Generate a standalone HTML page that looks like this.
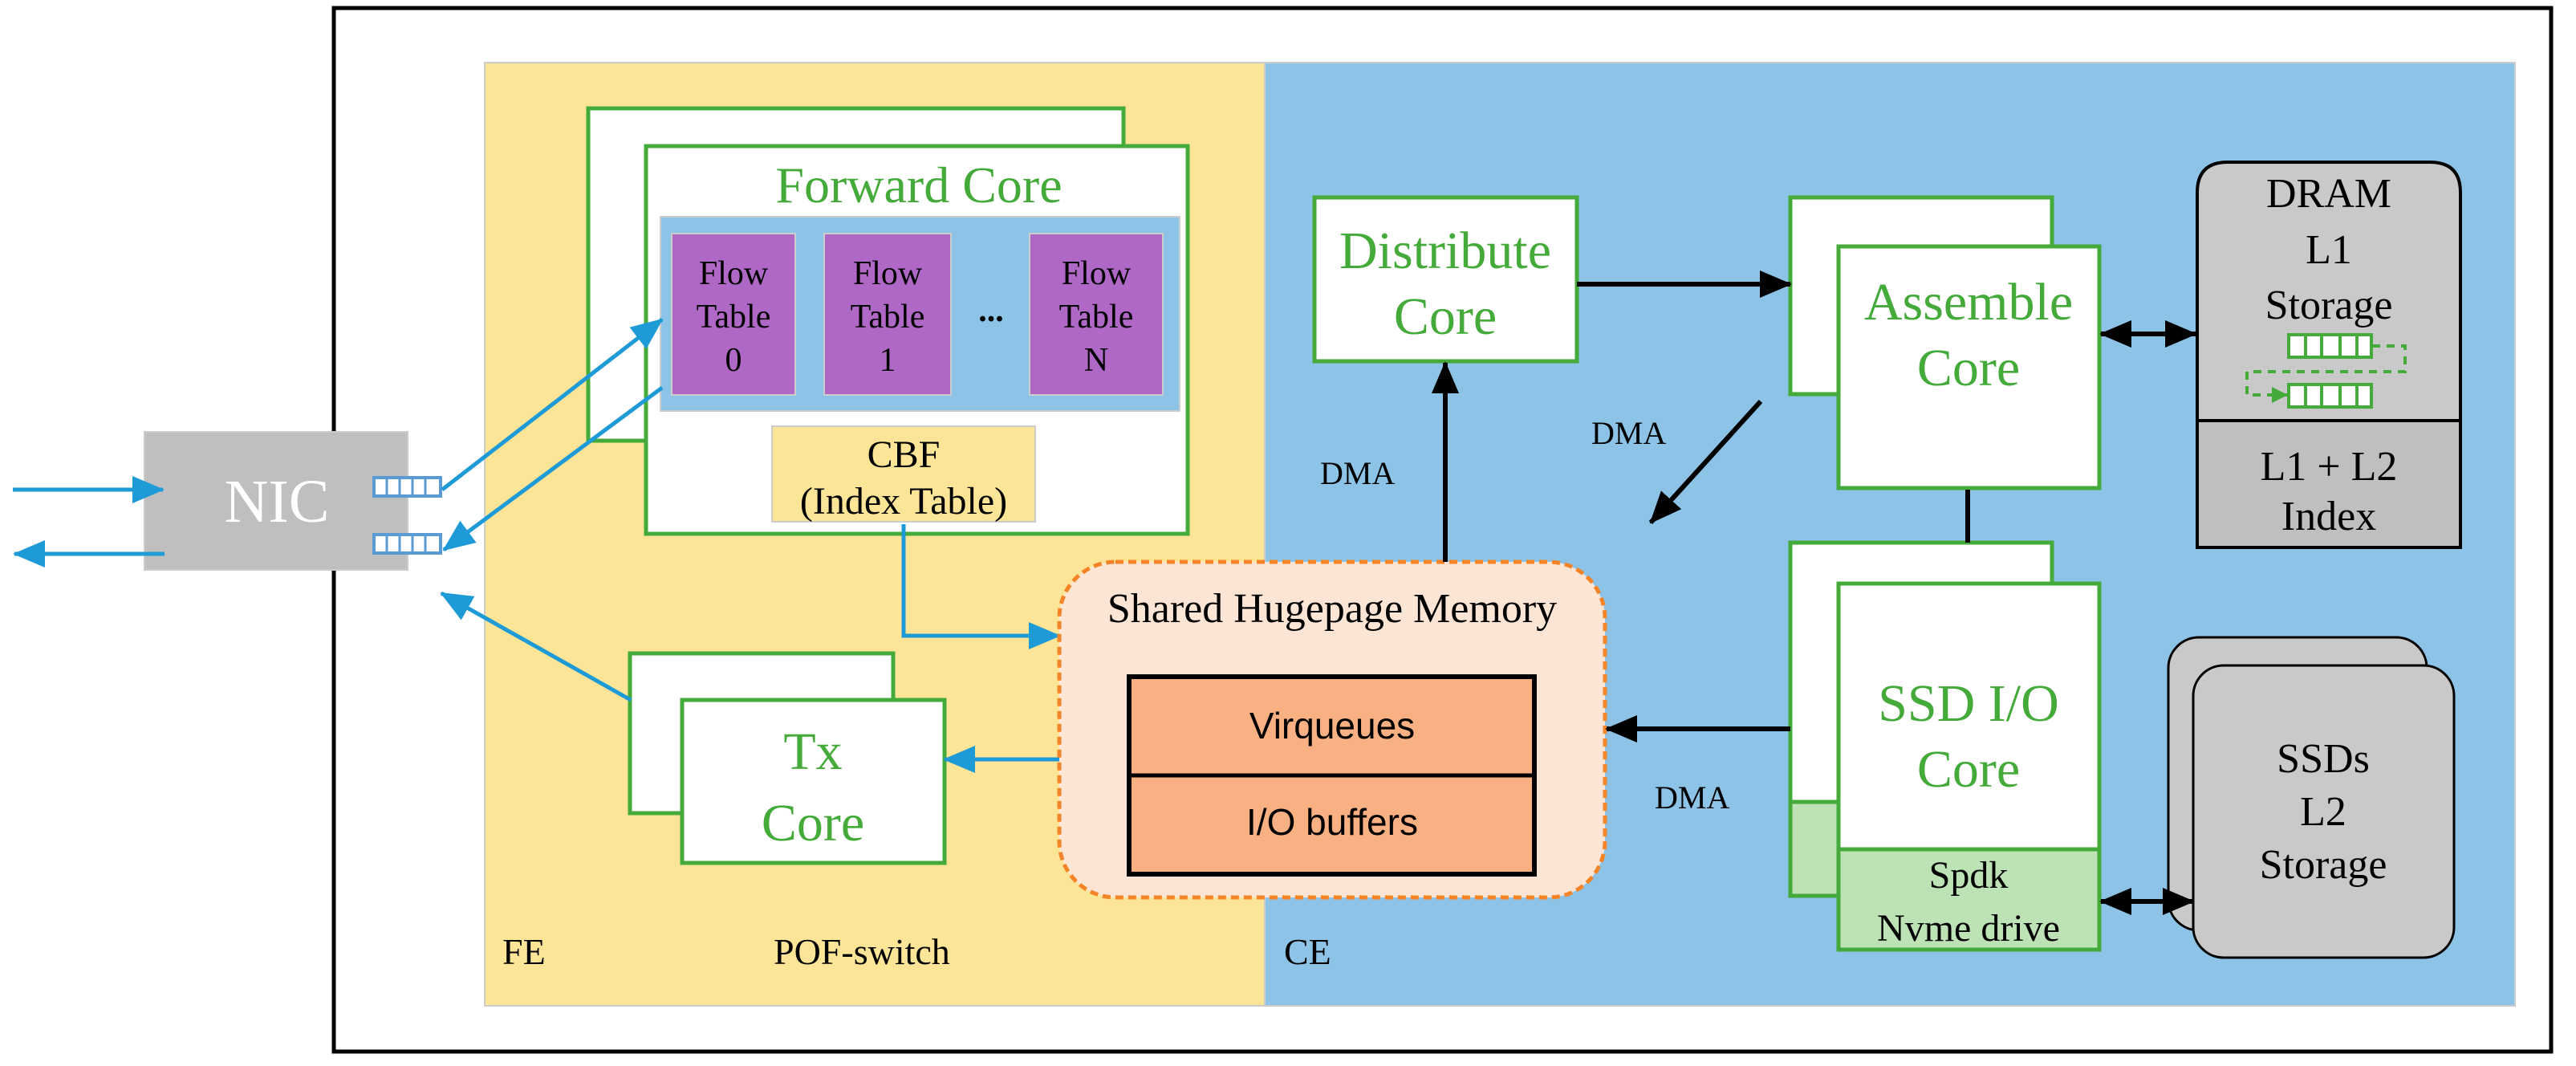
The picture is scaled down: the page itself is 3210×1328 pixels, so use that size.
<!DOCTYPE html>
<html><head><meta charset="utf-8"><style>
html,body{margin:0;padding:0;background:#fff;}
svg{display:block;}
</style></head><body>
<svg width="3210" height="1328" viewBox="0 0 3210 1328" xmlns="http://www.w3.org/2000/svg" font-family="Liberation Serif, serif">
<defs>
<marker id="bk" markerWidth="40" markerHeight="40" refX="38" refY="20" orient="auto" markerUnits="userSpaceOnUse" viewBox="0 0 40 40"><path d="M0,3 L40,20 L0,37 z" fill="#000"/></marker>
<marker id="bks" markerWidth="40" markerHeight="40" refX="2" refY="20" orient="auto" markerUnits="userSpaceOnUse" viewBox="0 0 40 40"><path d="M40,3 L0,20 L40,37 z" fill="#000"/></marker>
<marker id="bl" markerWidth="40" markerHeight="40" refX="38" refY="20" orient="auto" markerUnits="userSpaceOnUse" viewBox="0 0 40 40"><path d="M0,3 L40,20 L0,37 z" fill="#1E9AD6"/></marker>
<marker id="gr" markerWidth="20" markerHeight="20" refX="19" refY="10" orient="auto" markerUnits="userSpaceOnUse" viewBox="0 0 20 20"><path d="M0,0 L20,10 L0,20 z" fill="#44AA3A"/></marker>
</defs>
<rect x="416" y="10" width="2763" height="1300" fill="#fff" stroke="#000" stroke-width="5"/>
<rect x="604" y="78" width="972" height="1175" fill="#FDE598" stroke="#ccc" stroke-width="2"/>
<rect x="1576" y="78" width="1558" height="1175" fill="#8DC3E6" stroke="#ccc" stroke-width="2"/>

<rect x="180" y="538" width="328" height="172" fill="#BFBFBF" stroke="#ccc" stroke-width="2"/>
<text x="345" y="650" font-size="76" fill="#fff" text-anchor="middle">NIC</text>
<g fill="#fff" stroke="#5B9BD5" stroke-width="4">
<rect x="466" y="595" width="83" height="23"/><rect x="466" y="666" width="83" height="23"/>
</g>
<g stroke="#5B9BD5" stroke-width="3">
<line x1="482" y1="595" x2="482" y2="618"/><line x1="498" y1="595" x2="498" y2="618"/><line x1="514" y1="595" x2="514" y2="618"/><line x1="530" y1="595" x2="530" y2="618"/>
<line x1="482" y1="666" x2="482" y2="689"/><line x1="498" y1="666" x2="498" y2="689"/><line x1="514" y1="666" x2="514" y2="689"/><line x1="530" y1="666" x2="530" y2="689"/>
</g>
<g stroke="#1E9AD6" stroke-width="5" fill="none">
<line x1="16" y1="610" x2="203" y2="610" marker-end="url(#bl)"/>
<line x1="205" y1="690" x2="18" y2="690" marker-end="url(#bl)"/>
</g>

<rect x="733" y="135" width="667" height="414" fill="#fff" stroke="#44AA3A" stroke-width="5"/>
<rect x="805" y="182" width="675" height="483" fill="#fff" stroke="#44AA3A" stroke-width="5"/>
<text x="1145" y="252" font-size="64" fill="#44AA3A" text-anchor="middle">Forward Core</text>
<rect x="823" y="270" width="647" height="242" fill="#8DC3E6" stroke="#ccc" stroke-width="2"/>
<g fill="#B068C6" stroke="#ccc" stroke-width="2">
<rect x="837" y="291" width="154" height="201"/><rect x="1027" y="291" width="158" height="201"/><rect x="1283" y="291" width="166" height="201"/>
</g>
<g font-size="42" text-anchor="middle" fill="#000">
<text x="914" y="354">Flow</text><text x="914" y="408">Table</text><text x="914" y="462">0</text>
<text x="1106" y="354">Flow</text><text x="1106" y="408">Table</text><text x="1106" y="462">1</text>
<text x="1366" y="354">Flow</text><text x="1366" y="408">Table</text><text x="1366" y="462">N</text>
<text x="1235" y="400" font-weight="bold">...</text>
</g>
<rect x="962" y="531" width="328" height="119" fill="#FDE598" stroke="#ccc" stroke-width="2"/>
<text x="1126" y="582" font-size="48" text-anchor="middle">CBF</text>
<text x="1126" y="640" font-size="48" text-anchor="middle">(Index Table)</text>

<rect x="785" y="814" width="328" height="199" fill="#fff" stroke="#44AA3A" stroke-width="5"/>
<rect x="850" y="872" width="327" height="203" fill="#fff" stroke="#44AA3A" stroke-width="5"/>
<text x="1013" y="958" font-size="66" fill="#44AA3A" text-anchor="middle">Tx</text>
<text x="1013" y="1047" font-size="66" fill="#44AA3A" text-anchor="middle">Core</text>

<g stroke="#1E9AD6" stroke-width="5" fill="none">
<line x1="551" y1="610" x2="825" y2="398" marker-end="url(#bl)"/>
<line x1="825" y1="483" x2="553" y2="685" marker-end="url(#bl)"/>
<line x1="786" y1="872" x2="550" y2="739" marker-end="url(#bl)"/>
<polyline points="1126,653 1126,792 1320,792" marker-end="url(#bl)"/>
<line x1="1320" y1="946" x2="1177" y2="946" marker-end="url(#bl)"/>
</g>

<rect x="1320" y="700" width="680" height="418" rx="70" fill="#FDE5D5" stroke="#F58426" stroke-width="5" stroke-dasharray="10,6"/>
<text x="1660" y="775" font-size="52" text-anchor="middle">Shared Hugepage Memory</text>
<rect x="1407" y="843" width="505" height="246" fill="#F9B183" stroke="#000" stroke-width="6"/>
<line x1="1407" y1="966" x2="1912" y2="966" stroke="#000" stroke-width="5"/>
<text x="1660" y="920" font-size="46" font-family="Liberation Sans, sans-serif" text-anchor="middle">Virqueues</text>
<text x="1660" y="1040" font-size="46" font-family="Liberation Sans, sans-serif" text-anchor="middle">I/O buffers</text>

<rect x="1638" y="246" width="327" height="204" fill="#fff" stroke="#44AA3A" stroke-width="5"/>
<text x="1801" y="334" font-size="66" fill="#44AA3A" text-anchor="middle">Distribute</text>
<text x="1801" y="416" font-size="66" fill="#44AA3A" text-anchor="middle">Core</text>

<rect x="2231" y="246" width="326" height="245" fill="#fff" stroke="#44AA3A" stroke-width="5"/>
<rect x="2291" y="307" width="325" height="301" fill="#fff" stroke="#44AA3A" stroke-width="5"/>
<text x="2453" y="398" font-size="66" fill="#44AA3A" text-anchor="middle">Assemble</text>
<text x="2453" y="480" font-size="66" fill="#44AA3A" text-anchor="middle">Core</text>

<rect x="2231" y="676" width="326" height="440" fill="#fff" stroke="#44AA3A" stroke-width="5"/>
<rect x="2231" y="999" width="326" height="117" fill="#BDE2B5" stroke="#44AA3A" stroke-width="5"/>
<rect x="2291" y="727" width="325" height="456" fill="#fff" stroke="#44AA3A" stroke-width="5"/>
<rect x="2291" y="1058" width="325" height="125" fill="#BDE2B5" stroke="#44AA3A" stroke-width="5"/>
<text x="2453" y="898" font-size="66" fill="#44AA3A" text-anchor="middle">SSD I/O</text>
<text x="2453" y="980" font-size="66" fill="#44AA3A" text-anchor="middle">Core</text>
<text x="2453" y="1106" font-size="48" text-anchor="middle">Spdk</text>
<text x="2453" y="1172" font-size="48" text-anchor="middle">Nvme drive</text>

<path d="M2738,682 L2738,240 Q2738,202 2776,202 L3028,202 Q3066,202 3066,240 L3066,682 Z" fill="#C9C9C9" stroke="#000" stroke-width="4"/>
<rect x="2738" y="524" width="328" height="158" fill="#BFBFBF" stroke="#000" stroke-width="4"/>
<g font-size="52" text-anchor="middle">
<text x="2902" y="258">DRAM</text><text x="2902" y="328">L1</text><text x="2902" y="397">Storage</text>
<text x="2902" y="598">L1 + L2</text><text x="2902" y="660">Index</text>
</g>
<g fill="#fff" stroke="#44AA3A" stroke-width="4">
<rect x="2852" y="417" width="103" height="28"/><rect x="2852" y="479" width="103" height="28"/>
</g>
<g stroke="#44AA3A" stroke-width="4">
<line x1="2873" y1="417" x2="2873" y2="445"/><line x1="2893" y1="417" x2="2893" y2="445"/><line x1="2916" y1="417" x2="2916" y2="445"/><line x1="2937" y1="417" x2="2937" y2="445"/>
<line x1="2873" y1="479" x2="2873" y2="507"/><line x1="2893" y1="479" x2="2893" y2="507"/><line x1="2916" y1="479" x2="2916" y2="507"/><line x1="2937" y1="479" x2="2937" y2="507"/>
</g>
<polyline points="2956,431 2997,431 2997,463 2800,463 2800,492 2850,492" fill="none" stroke="#44AA3A" stroke-width="4" stroke-dasharray="10,8" marker-end="url(#gr)"/>

<rect x="2702" y="794" width="322" height="365" rx="38" fill="#C9C9C9" stroke="#000" stroke-width="3"/>
<rect x="2733" y="829" width="325" height="364" rx="38" fill="#C9C9C9" stroke="#000" stroke-width="3"/>
<g font-size="52" text-anchor="middle">
<text x="2895" y="962">SSDs</text><text x="2895" y="1028">L2</text><text x="2895" y="1094">Storage</text>
</g>

<g stroke="#000" stroke-width="6" fill="none">
<line x1="1965" y1="354" x2="2231" y2="354" marker-end="url(#bk)"/>
<line x1="1801" y1="700" x2="1801" y2="452" marker-end="url(#bk)"/>
<line x1="2194" y1="500" x2="2057" y2="651" marker-end="url(#bk)"/>
<line x1="2452" y1="610" x2="2452" y2="676"/>
<line x1="2231" y1="908" x2="2002" y2="908" marker-end="url(#bk)"/>
<line x1="2618" y1="416" x2="2736" y2="416" marker-end="url(#bk)" marker-start="url(#bks)"/>
<line x1="2618" y1="1123" x2="2733" y2="1123" marker-end="url(#bk)" marker-start="url(#bks)"/>
</g>
<g font-size="40">
<text x="1645" y="603">DMA</text>
<text x="1983" y="553">DMA</text>
<text x="2062" y="1007">DMA</text>
</g>
<g font-size="46">
<text x="626" y="1201">FE</text>
<text x="964" y="1201">POF-switch</text>
<text x="1600" y="1201">CE</text>
</g>
</svg>
</body></html>
